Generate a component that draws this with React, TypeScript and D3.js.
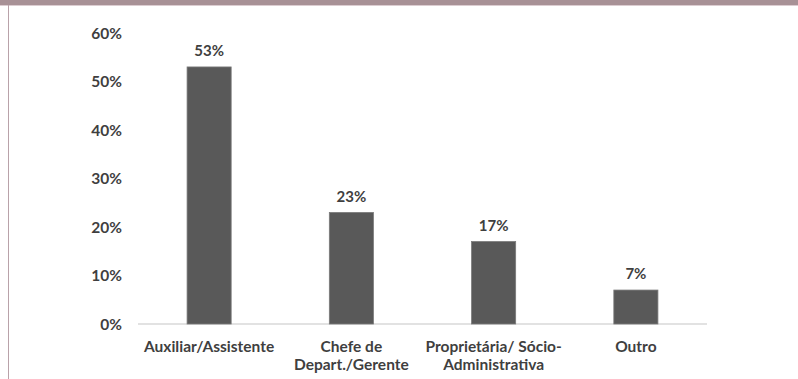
import React from "react";
import * as d3 from "d3";

const categories: string[][] = [
  ["Auxiliar/Assistente"],
  ["Chefe de", "Depart./Gerente"],
  ["Proprietária/ Sócio-", "Administrativa"],
  ["Outro"],
];
const values: number[] = [53, 23, 17, 7];
const yTicks: number[] = [0, 10, 20, 30, 40, 50, 60];

const W = 798;
const H = 379;
const FONT = "Lato, 'Open Sans', sans-serif";

export default function App() {
  const x = d3
    .scaleBand<number>()
    .domain(values.map((_, i) => i))
    .range([138, 707])
    .paddingInner(0.69)
    .paddingOuter(0.345);
  const y = d3.scaleLinear().domain([0, 60]).range([324, 33]);

  return (
    <svg
      width={W}
      height={H}
      style={{ position: "absolute", left: 0, top: 0, background: "#fff" }}
      fontFamily={FONT}
    >
      <rect x={0} y={0} width={W} height={5} fill="#a89196" />
      <rect x={0} y={5} width={W} height={1} fill="#dccdd1" />
      <rect x={8} y={5} width={1} height={H - 5} fill="#b9a2a9" />

      {yTicks.map((t) => (
        <text
          key={t}
          x={122}
          y={y(t)}
          dy="0.36em"
          textAnchor="end"
          fontSize={15.5}
          fontWeight={700}
          fill="#3f3f3f"
        >
          {t + "%"}
        </text>
      ))}

      <line x1={138} x2={707} y1={y(0)} y2={y(0)} stroke="#d9d9d9" strokeWidth={1.5} />

      {values.map((v, i) => (
        <g key={i}>
          <rect
            x={x(i)!}
            y={y(v)}
            width={x.bandwidth()}
            height={y(0) - y(v)}
            fill="#595959"
            stroke="#7a7a7a"
            strokeWidth={0.8}
          />
          <text
            x={x(i)! + x.bandwidth() / 2}
            y={y(v) - 16}
            dy="0.36em"
            textAnchor="middle"
            fontSize={15}
            fontWeight={700}
            fill="#3f3f3f"
          >
            {v + "%"}
          </text>
          {categories[i].map((line, j) => (
            <text
              key={j}
              x={x(i)! + x.bandwidth() / 2}
              y={352 + j * 18}
              textAnchor="middle"
              fontSize={15.5}
              fontWeight={700}
              fill="#3f3f3f"
            >
              {line}
            </text>
          ))}
        </g>
      ))}
    </svg>
  );
}
